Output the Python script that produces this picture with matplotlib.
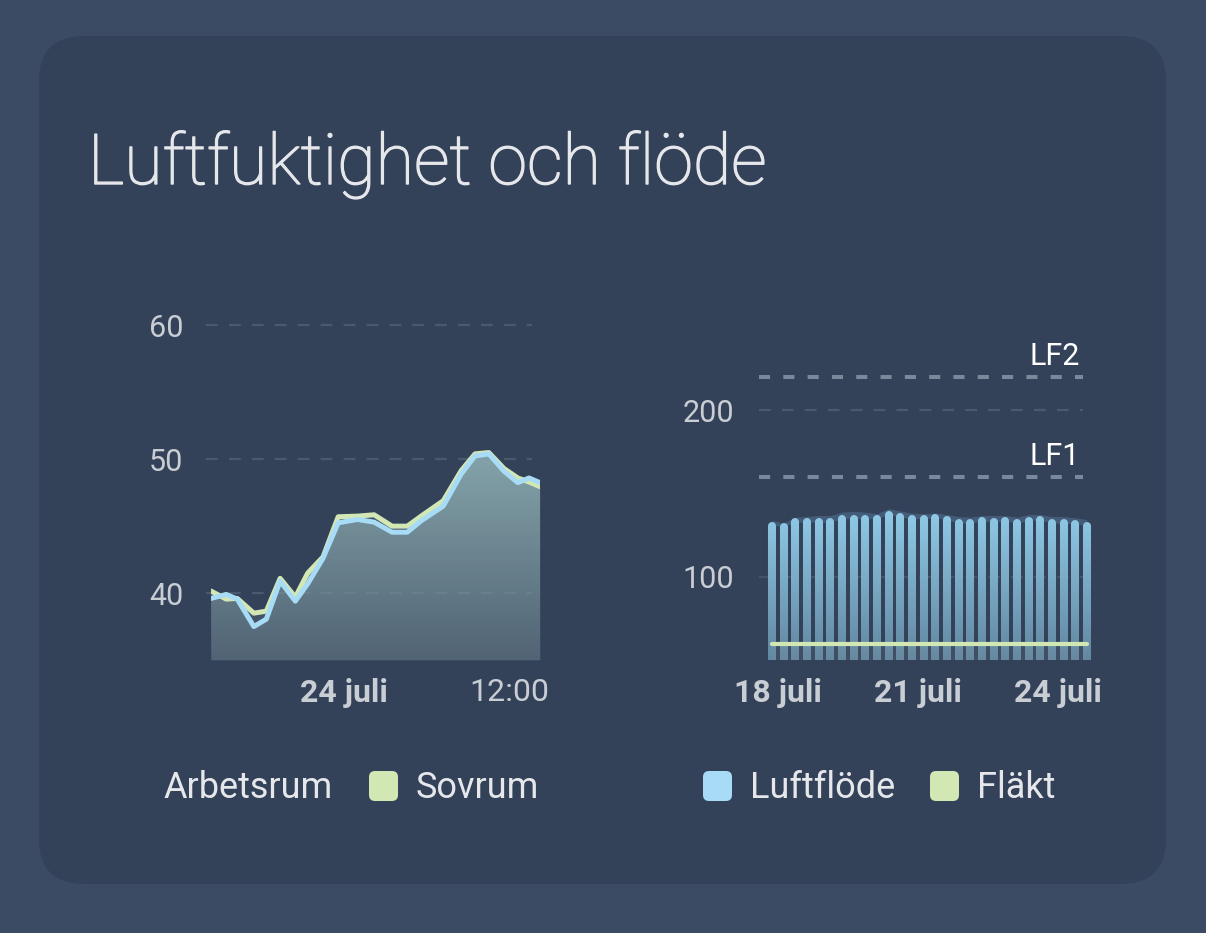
import numpy as np
import pandas as pd
import matplotlib
matplotlib.use("Agg")
import matplotlib.pyplot as plt
import matplotlib.dates as mdates
import matplotlib.patheffects as pe
from matplotlib.patches import FancyBboxPatch
from matplotlib.colors import to_rgba

plt.rcParams["font.family"] = ["Roboto", "DejaVu Sans"]
plt.rcParams["lines.scale_dashes"] = False

# humidity (%), 23-24 juli
hum_times = pd.to_datetime([
    "2024-07-23 14:24", "2024-07-23 15:30", "2024-07-23 16:18", "2024-07-23 17:30",
    "2024-07-23 18:24", "2024-07-23 19:24", "2024-07-23 20:30", "2024-07-23 21:24",
    "2024-07-23 22:30", "2024-07-23 23:36", "2024-07-24 01:00", "2024-07-24 02:12",
    "2024-07-24 03:30", "2024-07-24 04:36", "2024-07-24 05:36", "2024-07-24 07:12",
    "2024-07-24 08:30", "2024-07-24 09:30", "2024-07-24 10:30", "2024-07-24 11:36",
    "2024-07-24 12:36", "2024-07-24 13:24", "2024-07-24 14:12",
])
arbetsrum = [39.6, 39.9, 39.55, 37.5, 38.05, 40.9, 39.4, 40.7, 42.6, 45.25, 45.5, 45.3,
             44.55, 44.55, 45.4, 46.5, 48.9, 50.25, 50.4, 49.1, 48.25, 48.6, 48.25]
sovrum = [40.15, 39.55, 39.6, 38.5, 38.65, 41.1, 39.7, 41.5, 42.7, 45.7, 45.75, 45.85,
          45.0, 45.0, 45.75, 46.9, 49.15, 50.4, 50.5, 49.3, 48.6, 48.3, 47.95]
hum_ticks = ["2024-07-24 00:00", "2024-07-24 12:00"]
hum_tick_labels = ["24 juli", "12:00"]

# airflow, 6-hour buckets 17-24 juli
flow_times = pd.date_range("2024-07-17 21:00", periods=28, freq="6h")
luftflode = [130.7, 130.1, 132.7, 132.7, 132.7, 132.7, 134.8, 134.8, 134.8, 134.8,
             137.3, 135.7, 134.8, 134.8, 135.4, 134.2, 132.1, 132.1, 133.7, 132.7,
             133.7, 132.1, 133.7, 134.2, 132.1, 132.1, 131.7, 130.7]
luftflode_max = [133.7, 132.1, 135.7, 136.1, 136.7, 136.7, 138.7, 139.2, 138.7, 137.8,
                 140.8, 139.4, 138.2, 137.8, 138.2, 137.3, 136.1, 135.7, 136.7, 136.7,
                 136.7, 135.7, 137.3, 137.3, 136.1, 136.1, 135.4, 134.2]
flakt = [59.5, 59.5, 59.5, 59.5, 59.5, 59.5, 59.5, 59.5, 59.5, 59.5, 59.5, 59.5, 59.5, 59.5,
         59.5, 59.5, 59.5, 59.5, 59.5, 59.5, 59.5, 59.5, 59.5, 59.5, 59.5, 59.5, 59.5, 59.5]
flow_ticks = ["2024-07-18", "2024-07-21", "2024-07-24"]
flow_tick_labels = ["18 juli", "21 juli", "24 juli"]
limits = {"LF1": 160, "LF2": 220}

BG = "#3a4b63"
CARD = "#334259"
BLUE = "#a8dcf6"
GREEN = "#d3e7b4"
TEXT = "#e6e7eb"
TICK = "#c9cdd4"


def gradient(bottom_color, top_color, n=256):
    c0 = np.array(to_rgba(bottom_color))
    c1 = np.array(to_rgba(top_color))
    t = np.linspace(0, 1, n)[:, None]
    return (c0 + (c1 - c0) * t)[:, None, :]


def style_axes(ax):
    ax.set_facecolor("none")
    for s in ax.spines.values():
        s.set_visible(False)
    ax.tick_params(length=0, colors=TICK)


fig = plt.figure(figsize=(12.06, 9.33), dpi=100, facecolor=BG)

# background card, title, legends in pixel coordinates
bg = fig.add_axes([0, 0, 1, 1])
bg.set_xlim(0, 1206)
bg.set_ylim(933, 0)
bg.axis("off")
bg.add_patch(FancyBboxPatch((39, 36), 1127, 848, boxstyle="round,pad=0,rounding_size=45",
                            facecolor=CARD, edgecolor="none"))
bg.text(88, 184, "Luftfuktighet och flöde", fontsize=50.5, fontweight="light",
        color=TEXT, va="baseline",
        path_effects=[pe.withStroke(linewidth=1.0, foreground=TEXT)])

legend_items = [
    (163, None, "Arbetsrum"),
    (416, GREEN, "Sovrum"),
    (750, BLUE, "Luftflöde"),
    (977, GREEN, "Fläkt"),
]
for x, col, label in legend_items:
    if col is not None:
        bg.add_patch(FancyBboxPatch((x - 47, 771), 29, 30,
                                    boxstyle="round,pad=0,rounding_size=6",
                                    facecolor=col, edgecolor="none"))
    bg.text(x, 788, label, fontsize=26, color=TEXT, va="center", ha="left")

# ---- left: humidity ----
ax1 = fig.add_axes([211 / 1206, 1 - 660 / 933, 329 / 1206, 348 / 933])
style_axes(ax1)
x0, x1 = mdates.date2num(hum_times[0]), mdates.date2num(hum_times[-1])

poly = ax1.fill_between(hum_times, 35, arbetsrum, facecolor="none", edgecolor="none")
im = ax1.imshow(gradient("#455568", "#88a8ad"), extent=[x0, x1, 35, 51.5],
                aspect="auto", origin="lower", zorder=1)
im.set_clip_path(poly.get_paths()[0], transform=ax1.transData)
ax1.fill_between(hum_times, 35, sovrum, color="#8aa8b0", alpha=0.18, lw=0, zorder=1)

for v in [40, 50, 60]:
    ax1.axhline(v, xmin=-0.015, xmax=0.976, color="#8090a8", alpha=0.3, lw=1.6,
                ls=(0, (8.5, 8)), zorder=2, clip_on=False)

ax1.plot(hum_times, sovrum, color=GREEN, lw=3.6, solid_capstyle="round",
         solid_joinstyle="round", zorder=3)
ax1.plot(hum_times, arbetsrum, color=BLUE, lw=3.6, solid_capstyle="round",
         solid_joinstyle="round", zorder=4)

ax1.set_xlim(hum_times[0], hum_times[-1])
ax1.set_ylim(35, 61)
ax1.set_yticks([40, 50, 60])
ax1.tick_params(axis="y", pad=20, labelsize=22)
ax1.set_xticks(pd.to_datetime(hum_ticks))
ax1.set_xticklabels(hum_tick_labels)
ax1.tick_params(axis="x", pad=13, labelsize=23)
ax1.get_xticklabels()[0].set_fontweight("bold")

# ---- right: airflow ----
ax2 = fig.add_axes([759 / 1206, 1 - 660 / 933, 333 / 1206, 300 / 933])
style_axes(ax2)

ax2.fill_between(flow_times, luftflode, luftflode_max, color="#4a6582", alpha=0.8,
                 lw=0, zorder=1)
bars = ax2.vlines(flow_times, 50, luftflode, colors="#90cbe8", lw=5.8, zorder=2)
bars.set_capstyle("round")

shade = np.zeros((256, 1, 4))
shade[:, 0, :3] = to_rgba(CARD)[:3]
yy = np.linspace(50, 230, 256)
shade[:, 0, 3] = np.clip((140 - yy) / 90, 0, 1) * 0.5
fx0 = mdates.date2num(flow_times[0]) - 1
fx1 = mdates.date2num(flow_times[-1]) + 1
ax2.imshow(shade, extent=[fx0, fx1, 50, 230], aspect="auto", origin="lower", zorder=3)

ax2.fill_between(flow_times, 50, flakt, color="#8a9aa0", alpha=0.15, lw=0, zorder=4)
ax2.plot(flow_times, flakt, color=GREEN, lw=3, solid_capstyle="round", zorder=5)

for v in [100, 200]:
    ax2.axhline(v, xmax=0.973, color="#8090a8", alpha=0.3, lw=1.6,
                ls=(0, (8.5, 8)), zorder=1.5)
for name, v in limits.items():
    ax2.axhline(v, xmax=0.973, color="#7b879a", lw=2.9, ls=(0, (8, 9.5)), zorder=4)
    ax2.annotate(name, xy=(0.965, v), xycoords=("axes fraction", "data"),
                 xytext=(0, 4), textcoords="offset points", ha="right", va="bottom",
                 fontsize=22, color="white")

ax2.set_xlim(flow_times[0] - pd.Timedelta(hours=6.7), flow_times[-1] + pd.Timedelta(hours=2.6))
ax2.set_ylim(50, 230)
ax2.set_yticks([100, 200])
ax2.tick_params(axis="y", pad=18, labelsize=22)
ax2.set_xticks(pd.to_datetime(flow_ticks))
ax2.set_xticklabels(flow_tick_labels, fontweight="bold")
ax2.tick_params(axis="x", pad=13, labelsize=23)

fig.savefig("out.png", dpi=100, facecolor=BG)
